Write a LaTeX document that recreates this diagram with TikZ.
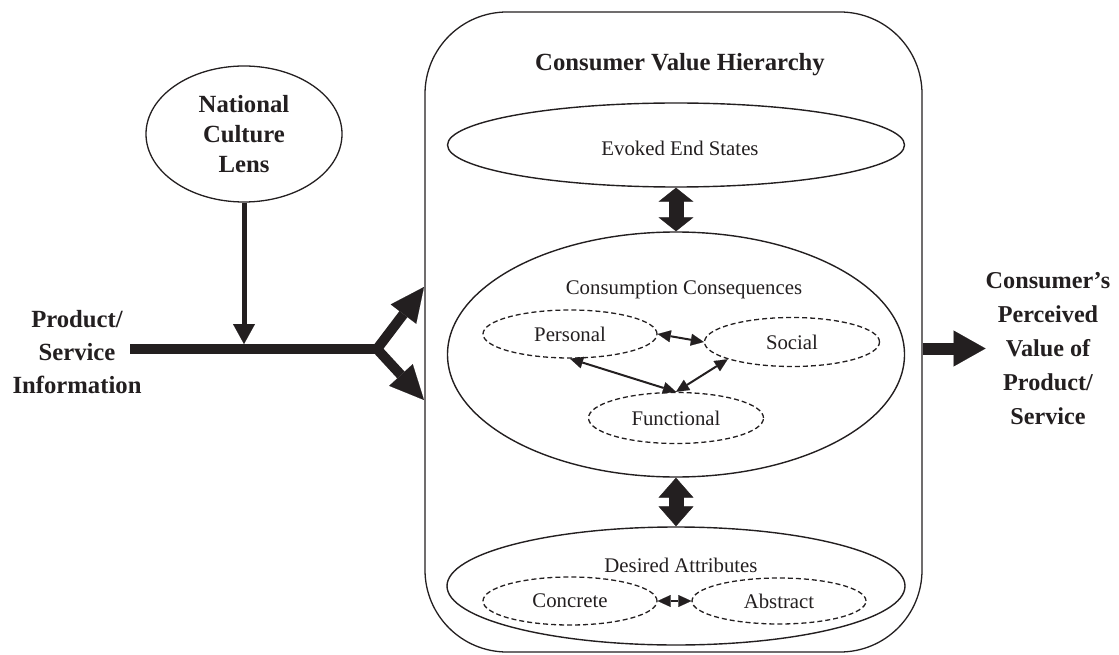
\documentclass[tikz,border=0pt]{standalone}
\usepackage{fontspec}
\setmainfont{Liberation Serif}
\usetikzlibrary{shapes.geometric,arrows.meta,calc}
\definecolor{inkc}{RGB}{35,31,32}
\begin{document}
\begin{tikzpicture}[x=1pt,y=-1pt,
  ink/.style={draw=inkc, line width=1.4pt},
  bigell/.style={ellipse, ink, inner sep=0pt},
  dashell/.style={ellipse, draw=inkc, line width=1.3pt, dash pattern=on 5pt off 3pt,
    inner sep=0pt, minimum width=174pt, minimum height=48pt, text=inkc,
    font=\fontsize{20.8pt}{25pt}\selectfont},
  normtxt/.style={inner sep=0pt, text=inkc, font=\fontsize{20.8pt}{25pt}\selectfont},
  boldtxt/.style={inner sep=0pt, text=inkc, align=center,
    font=\fontsize{24.7pt}{33pt}\selectfont\bfseries},
  fatshaft/.style={draw=inkc, line width=15pt, shorten <=#1, shorten >=#1},
  fatheads/.style={draw=inkc, line width=0.5pt,
    {Triangle[length=#1,width=35pt]}-{Triangle[length=#1,width=35pt]}},
  thindbl/.style={draw=inkc, line width=2pt,
    {Triangle[length=13pt,width=12pt,line width=0.1pt]}-{Triangle[length=13pt,width=12pt,line width=0.1pt]}},
  fork/.style={draw=inkc, line width=10pt, line join=miter,
    {Triangle[length=34pt,width=32pt,line width=0.1pt]}-{Triangle[length=34pt,width=32pt,line width=0.1pt]}},
  flow/.style={draw=inkc, line width=10pt},
  outarrow/.style={draw=inkc, line width=12pt, -{Triangle[length=32pt,width=36pt,line width=0.1pt]}},
  lensarrow/.style={draw=inkc, line width=5pt, -{Triangle[length=20pt,width=22pt,line width=0.1pt]}}
]
\useasboundingbox (0,0) rectangle (1119,655);

% hierarchy frame and its title
\node[draw=inkc, line width=1.3pt, rounded corners=82pt, inner sep=0pt,
  minimum width=497pt, minimum height=640pt] (box) at (673.5,332) {};
\node[boldtxt] (title) at (680,65) {Consumer Value Hierarchy};

% the three levels
\node[bigell, minimum width=457pt, minimum height=84pt] (evoked) at (676,145) {};
\node[normtxt] (evokedtxt) at (680,148) {Evoked End States};

\node[bigell, minimum width=457pt, minimum height=245pt] (cons) at (676,354.5) {};
\node[normtxt] (constxt) at (684,290) {Consumption Consequences};

\node[bigell, minimum width=458pt, minimum height=118pt] (attr) at (676,586) {};
\node[normtxt] (attrtxt) at (681,565) {Desired Attributes};

% consequence types
\node[dashell] (personal) at (570,334) {Personal};
\node[dashell, minimum width=175pt, minimum height=49pt] (social) at (792,342) {Social};
\node[dashell, minimum width=175pt, minimum height=51pt] (functional) at (676,418) {Functional};

% attribute types
\node[dashell] (concrete) at (570,601) {Concrete};
\node[dashell, minimum height=46pt] (abstract) at (779,601) {Abstract};

% links between levels: a wide shaft with a head at each end
\draw[fatshaft=13pt] (evoked.south) -- (cons.north);
\draw[fatheads=14pt] (evoked.south) -- (cons.north);
\draw[fatshaft=19pt] (cons.south) -- (attr.north);
\draw[fatheads=20pt] (cons.south) -- (attr.north);

% links inside the levels
\draw[thindbl] (personal.east) -- (social.west);
\draw[thindbl] (personal.south) -- (functional.north);
\draw[thindbl] (social.195) -- (functional.north);
\draw[thindbl] (concrete.east) -- (abstract.west);

% input side
\node[boldtxt] (info) at (77,352) {Product/\\Service\\Information};
\node[ellipse, draw=inkc, line width=1.3pt, inner sep=0pt, minimum width=196pt,
  minimum height=136pt, text=inkc, align=center,
  font=\fontsize{24.7pt}{30pt}\selectfont\bfseries] (lens) at (244,134)
  {National\\Culture\\Lens};

\coordinate (src) at (130,349);
\coordinate (split) at (377,349);
\coordinate (meet) at (244,344);
\coordinate (tipU) at (424,287);
\coordinate (tipL) at (424,400);

\draw[flow] (src) -- (split);
\draw[fork] (tipU) -- (split) -- (tipL);
\draw[lensarrow] (lens.south) -- (meet);

% output side
\node[boldtxt, font=\fontsize{24.2pt}{34pt}\selectfont\bfseries] (perc) at (1048,348.5)
  {Consumer’s\\Perceived\\Value of\\Product/\\Service};
\draw[outarrow] (box.east |- perc.west) -- (perc.west);
\end{tikzpicture}
\end{document}
